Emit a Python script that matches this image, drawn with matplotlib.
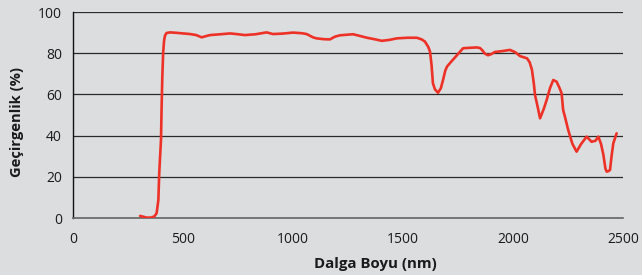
import matplotlib
matplotlib.use("Agg")
import matplotlib.pyplot as plt

wavelength = [305, 320, 335, 355, 370, 380, 388, 392, 396, 400, 403, 406, 410, 414, 418, 425, 441,
              470, 500, 532, 560, 585, 605, 623, 670, 714, 750, 782, 830, 880, 909, 950, 1000,
              1040, 1062, 1091, 1107, 1140, 1168, 1190, 1214, 1273, 1300, 1336, 1370, 1404, 1440,
              1472, 1520, 1563, 1585, 1600, 1615, 1623, 1630, 1636, 1645, 1659, 1672, 1682, 1692,
              1700, 1720, 1745, 1773, 1800, 1836, 1850, 1859, 1872, 1886, 1900, 1918, 1950, 1986,
              2010, 2032, 2064, 2076, 2086, 2095, 2100, 2110, 2123, 2140, 2153, 2168, 2183, 2198,
              2212, 2221, 2228, 2236, 2251, 2270, 2289, 2310, 2335, 2357, 2375, 2388, 2400, 2411,
              2420, 2426, 2434, 2441, 2448, 2456, 2471]
transmittance = [1.0, 0.6, 0.2, 0.2, 0.8, 2.3, 8.7, 21.8, 30, 38, 55, 68.6, 80.7, 86, 88.5, 89.8, 90.1,
                 89.9, 89.6, 89.3, 88.8, 87.7, 88.3, 88.8, 89.2, 89.6, 89.2, 88.8, 89.2, 90.1, 89.3, 89.5, 90,
                 89.7, 89.3, 87.7, 87.2, 86.8, 86.7, 88, 88.7, 89.2, 88.5, 87.5, 86.8, 86, 86.5,
                 87.2, 87.5, 87.5, 86.7, 85.6, 83, 80.7, 74, 65.4, 62.5, 60.8, 63, 67, 71.5,
                 73.5, 76, 79, 82.4, 82.6, 82.8, 82.5, 81.6, 79.8, 79, 79.5, 80.6, 81, 81.6,
                 80.5, 78.6, 77.5, 75.5, 72, 65, 59.7, 55, 48.4, 53, 57.3, 63, 67, 66.2,
                 63, 60.5, 52.4, 49.2, 42.7, 36, 32.2, 36, 39.5, 37, 37.5, 39.5, 36, 30.6,
                 24, 22.5, 22.8, 23.3, 30, 36.3, 41.1]

xticks = [0, 500, 1000, 1500, 2000, 2500]
yticks = [0, 20, 40, 60, 80, 100]
xlabel = "Dalga Boyu (nm)"
ylabel = "Geçirgenlik (%)"

plt.rcParams['font.family'] = ['Open Sans', 'DejaVu Sans']
bg = '#dcdddf'
fig = plt.figure(figsize=(6.42, 2.75), dpi=100, facecolor=bg)
ax = fig.add_axes([73/642, 1-218/275, 550/642, 206/275])
ax.set_facecolor(bg)

ax.plot(wavelength, transmittance, color='#ee3126', lw=1.9, solid_joinstyle='round',
        solid_capstyle='round', zorder=3)

ax.set_xlim(0, 2500)
ax.set_ylim(0, 100)
ax.set_xticks(xticks)
ax.set_yticks(yticks)
ax.yaxis.grid(True, color='#2a2a2a', lw=0.9)
ax.set_axisbelow(True)
for s in ['top', 'right']:
    ax.spines[s].set_visible(False)
ax.spines['left'].set_color('#111111')
ax.spines['left'].set_linewidth(1.0)
ax.spines['bottom'].set_color('#666666')
ax.spines['bottom'].set_linewidth(1.2)
ax.tick_params(axis='both', length=0, labelsize=10, colors='#1a1a1a')
ax.tick_params(axis='x', pad=10)
ax.tick_params(axis='y', pad=8)

ax.set_xlabel(xlabel, fontsize=10.8, fontweight='bold', color='#1a1a1a')
ax.xaxis.set_label_coords((375-73)/550, -(257-218)/206)
ax.set_ylabel(ylabel, fontsize=10.6, fontweight='bold', color='#1a1a1a')
ax.yaxis.set_label_coords(-(73-24)/550, (218-122)/206)

fig.savefig('out.png', dpi=100, facecolor=bg)
